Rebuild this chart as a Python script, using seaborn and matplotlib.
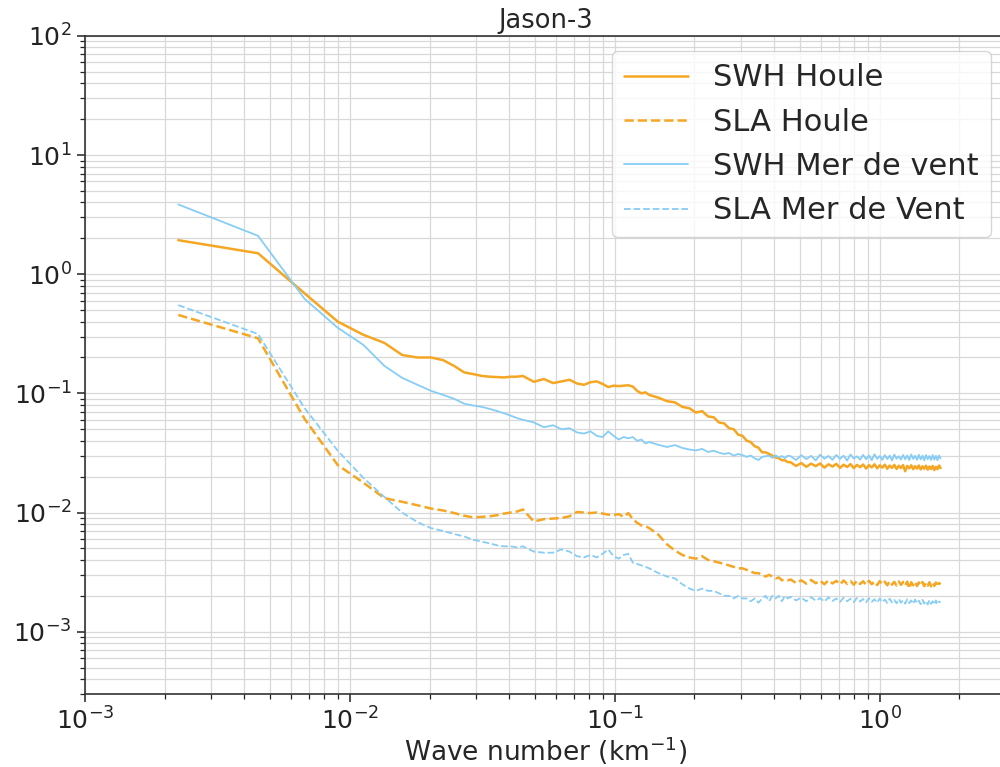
import matplotlib
matplotlib.use("Agg")
import matplotlib.pyplot as plt
import seaborn as sns
import numpy as np

# ---------------- data ----------------
# spectral bin index (wave number = index * bin width)
harmonic = (list(range(1, 21)) + list(range(22, 61, 2))
            + list(range(65, 201, 5)) + list(range(205, 756, 10)))
bin_width = 0.00225  # km^-1

swh_houle = [
    1.93, 1.50, 0.69, 0.40, 0.31, 0.265, 0.21, 0.20, 0.20, 0.19,
    0.17, 0.15, 0.145, 0.14, 0.138, 0.137, 0.136, 0.138, 0.138, 0.140,
    0.125, 0.132, 0.122, 0.126, 0.130, 0.121, 0.118, 0.124, 0.126, 0.120,
    0.113, 0.116, 0.115, 0.116, 0.117, 0.114, 0.105, 0.100, 0.102, 0.097,
    0.092, 0.086, 0.084, 0.077, 0.075, 0.069, 0.071, 0.064, 0.063, 0.057,
    0.056, 0.051, 0.050, 0.045, 0.044, 0.040, 0.039, 0.036, 0.035, 0.032,
    0.032, 0.0310, 0.0300, 0.0290, 0.0285, 0.0275, 0.0274, 0.0265,
    0.0264, 0.0246, 0.0260, 0.0242, 0.0257, 0.0245, 0.0258, 0.0238, 0.0254, 0.0243,
    0.0256, 0.0237, 0.0252, 0.0241, 0.0255, 0.0236, 0.0251, 0.0240, 0.0253, 0.0234,
    0.0250, 0.0239, 0.0254, 0.0235, 0.0249, 0.0238, 0.0252, 0.0233, 0.0248, 0.0237,
    0.0251, 0.0232, 0.0247, 0.0236, 0.0250, 0.0222, 0.0246, 0.0235, 0.0249, 0.0231,
    0.0245, 0.0234, 0.0248, 0.0230, 0.0244, 0.0233, 0.0247, 0.0229, 0.0243, 0.0232,
    0.0246, 0.0227, 0.0242, 0.0231, 0.0248, 0.0236,
]

sla_houle = [
    0.455, 0.29, 0.061, 0.025, 0.0178, 0.0132, 0.0123, 0.0115, 0.0108, 0.0104,
    0.0099, 0.0094, 0.0091, 0.0092, 0.0093, 0.0095, 0.0098, 0.0100, 0.0102, 0.0106,
    0.0084, 0.0088, 0.0089, 0.0090, 0.0093, 0.0101, 0.0100, 0.0099, 0.0100, 0.0098,
    0.0096, 0.0095, 0.0097, 0.0092, 0.0099, 0.0088, 0.0082, 0.0078, 0.0077, 0.0074,
    0.0065, 0.0054, 0.0048, 0.0044, 0.0042, 0.0041, 0.0043, 0.0040, 0.0039, 0.0038,
    0.0037, 0.0036, 0.0035, 0.0034, 0.0034, 0.0033, 0.0032, 0.0031, 0.0031, 0.0030,
    0.0029, 0.0030, 0.0029, 0.0028, 0.00285, 0.0027, 0.00275, 0.0027,
    0.00274, 0.00256, 0.00270, 0.00253, 0.00272, 0.00255, 0.00268, 0.00250, 0.00270, 0.00254,
    0.00267, 0.00249, 0.00269, 0.00252, 0.00266, 0.00248, 0.00268, 0.00251, 0.00265, 0.00247,
    0.00267, 0.00250, 0.00264, 0.00246, 0.00266, 0.00249, 0.00263, 0.00245, 0.00265, 0.00248,
    0.00262, 0.00244, 0.00264, 0.00247, 0.00261, 0.00243, 0.00263, 0.00230, 0.00260, 0.00245,
    0.00262, 0.00242, 0.00259, 0.00244, 0.00261, 0.00241, 0.00258, 0.00243, 0.00260, 0.00240,
    0.00257, 0.00242, 0.00259, 0.00239, 0.00256, 0.00250,
]

swh_mer = [
    3.85, 2.10, 0.62, 0.355, 0.255, 0.17, 0.135, 0.118, 0.105, 0.097,
    0.090, 0.082, 0.079, 0.077, 0.074, 0.071, 0.068, 0.065, 0.062, 0.060,
    0.057, 0.052, 0.054, 0.050, 0.051, 0.047, 0.046, 0.048, 0.044, 0.043,
    0.048, 0.044, 0.041, 0.043, 0.042, 0.043, 0.040, 0.041, 0.038, 0.039,
    0.037, 0.0355, 0.0368, 0.0348, 0.0338, 0.0332, 0.0342, 0.0322, 0.0330, 0.0318,
    0.0310, 0.0316, 0.0300, 0.0310, 0.0303, 0.0293, 0.0301, 0.0285, 0.0276, 0.0292,
    0.0297, 0.0300, 0.0288, 0.0302, 0.0290, 0.0298, 0.0286, 0.0300,
    0.0297, 0.0276, 0.0303, 0.0281, 0.0299, 0.0274, 0.0306, 0.0283, 0.0298, 0.0277,
    0.0304, 0.0282, 0.0300, 0.0273, 0.0307, 0.0284, 0.0296, 0.0278, 0.0305, 0.0280,
    0.0301, 0.0275, 0.0308, 0.0282, 0.0298, 0.0277, 0.0303, 0.0281, 0.0300, 0.0274,
    0.0306, 0.0283, 0.0297, 0.0278, 0.0304, 0.0280, 0.0301, 0.0276, 0.0307, 0.0282,
    0.0299, 0.0277, 0.0305, 0.0279, 0.0300, 0.0274, 0.0303, 0.0281, 0.0298, 0.0276,
    0.0304, 0.0278, 0.0299, 0.0275, 0.0301, 0.0285,
]

sla_mer = [
    0.55, 0.315, 0.075, 0.033, 0.0195, 0.0135, 0.0100, 0.0083, 0.0074, 0.0070,
    0.0066, 0.0063, 0.0059, 0.0057, 0.0055, 0.0053, 0.0052, 0.0052, 0.0051, 0.0052,
    0.0047, 0.0046, 0.0046, 0.0049, 0.0047, 0.0043, 0.0042, 0.0044, 0.0042, 0.0045,
    0.0049, 0.0043, 0.0041, 0.0044, 0.0045, 0.0038, 0.0037, 0.0036, 0.0035, 0.0034,
    0.0031, 0.0029, 0.0028, 0.0025, 0.0023, 0.0022, 0.0023, 0.0022, 0.0022, 0.0021,
    0.0020, 0.0020, 0.0019, 0.0020, 0.0019, 0.0019, 0.0018, 0.0019, 0.00175, 0.0019,
    0.0020, 0.0018, 0.0020, 0.0019, 0.0020, 0.0018, 0.0020, 0.0019,
    0.00196, 0.00183, 0.00193, 0.00180, 0.00195, 0.00182, 0.00191, 0.00179, 0.00194, 0.00181,
    0.00190, 0.00178, 0.00193, 0.00180, 0.00189, 0.00177, 0.00192, 0.00179, 0.00188, 0.00176,
    0.00191, 0.00178, 0.00187, 0.00175, 0.00190, 0.00177, 0.00186, 0.00174, 0.00189, 0.00176,
    0.00185, 0.00173, 0.00188, 0.00175, 0.00184, 0.00172, 0.00187, 0.00174, 0.00183, 0.00171,
    0.00186, 0.00173, 0.00182, 0.00170, 0.00185, 0.00172, 0.00181, 0.00169, 0.00184, 0.00171,
    0.00180, 0.00169, 0.00183, 0.00170, 0.00179, 0.00176,
]

labels = ["SWH Houle", "SLA Houle", "SWH Mer de vent", "SLA Mer de Vent"]
title = "Jason-3"
xlabel = "Wave number (km$^{-1}$)"

# ---------------- plot ----------------
sns.set_style("ticks")
plt.rcParams["font.family"] = ["DejaVu Sans"]

wavenumber = np.array(harmonic) * bin_width

fig = plt.figure(figsize=(10, 7.67), dpi=100)
ax = fig.add_axes([0.085, 0.0952, 0.921, 0.858])

orange = "#f5a623"
blue = "#87cdf5"
series = [
    (swh_houle, labels[0], orange, "-", 1.8),
    (sla_houle, labels[1], orange, "--", 1.8),
    (swh_mer, labels[2], blue, "-", 1.3),
    (sla_mer, labels[3], blue, "--", 1.3),
]
for vals, lab, col, ls, lw in series:
    sns.lineplot(x=wavenumber, y=np.array(vals), ax=ax, color=col,
                 linestyle=ls, linewidth=lw, label=lab,
                 estimator=None, sort=False)

ax.set_xscale("log")
ax.set_yscale("log")
ax.set_xlim(1e-3, 3)
ax.set_ylim(3e-4, 1e2)

ax.grid(True, which="both", color="#d8d8d8", linewidth=0.9)
ax.set_axisbelow(True)
for s in ax.spines.values():
    s.set_color("#333333")
    s.set_linewidth(1.2)

ax.tick_params(which="major", labelsize=18, length=6, width=1.1, colors="#222222")
ax.tick_params(which="minor", length=3.5, width=0.9, colors="#222222")

ax.set_title(title, fontsize=18.5, pad=6)
ax.set_xlabel(xlabel, fontsize=19, labelpad=0)
ax.set_ylabel("")

ax.legend(loc="upper right", fontsize=22, frameon=True, framealpha=0.8,
          labelspacing=0.5, handlelength=2.1, borderpad=0.4)

fig.savefig("out.png", dpi=100)
